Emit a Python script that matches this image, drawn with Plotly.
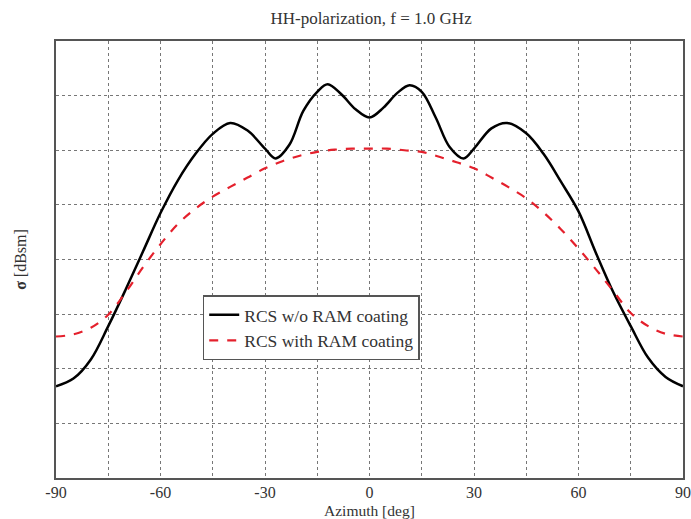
import plotly.graph_objects as go

# Data (y in grid units, axis unlabeled)
az_black = [-90, -85, -80, -75, -70, -65, -60, -55, -50, -45, -40, -35, -30, -27, -23, -19, -15, -12, -8, -4, 0,
            4, 8, 11.5, 15, 19, 23, 27, 30, 35, 39.5, 45, 50, 55, 60, 65, 70, 75, 80, 85, 90]
rcs_black = [1.68, 1.82, 2.17, 2.78, 3.45, 4.15, 4.85, 5.45, 5.93, 6.30, 6.50, 6.36, 6.03, 5.85, 6.10, 6.72, 7.07, 7.21, 7.02, 6.75, 6.60,
             6.78, 7.05, 7.19, 7.07, 6.60, 6.06, 5.85, 6.03, 6.40, 6.50, 6.31, 5.93, 5.42, 4.88, 4.12, 3.40, 2.78, 2.20, 1.85, 1.68]

az_red = [-90, -85, -80, -75, -70, -65, -60, -55, -50, -45, -40, -35, -30, -25, -20, -15, -10, -5, 0,
          5, 10, 15, 20, 25, 30, 35, 40, 45, 50, 55, 60, 65, 70, 75, 80, 85, 90]
rcs_red = [2.59, 2.63, 2.75, 2.99, 3.40, 3.86, 4.28, 4.65, 4.93, 5.15, 5.33, 5.50, 5.67, 5.80, 5.90, 5.97, 6.01, 6.03, 6.03,
           6.03, 6.00, 5.97, 5.88, 5.78, 5.67, 5.50, 5.32, 5.12, 4.86, 4.55, 4.20, 3.82, 3.42, 3.02, 2.78, 2.64, 2.59]

x_ticks = [-90, -60, -30, 0, 30, 60, 90]

serif = "Liberation Serif"
txt = "#333"

fig = go.Figure()
fig.add_trace(go.Scatter(x=az_black, y=rcs_black, mode="lines", name="RCS w/o RAM coating",
                         line=dict(color="black", width=2.5, shape="spline", smoothing=1.0)))
fig.add_trace(go.Scatter(x=az_red, y=rcs_red, mode="lines", name="RCS with RAM coating",
                         line=dict(color="#e4202c", width=2.2, dash="dash", shape="spline", smoothing=1.0)))

fig.update_layout(
    width=691, height=519,
    margin=dict(l=56, r=8, t=41, b=41),
    paper_bgcolor="white", plot_bgcolor="white",
    font=dict(family=serif, color=txt, size=17),
    title=dict(text="HH-polarization, f = 1.0 GHz", x=0.537, xanchor="center", y=0.965, yanchor="middle",
               font=dict(size=17, family=serif, color=txt)),
    showlegend=True,
    legend=dict(x=0.234, y=0.418, xanchor="left", yanchor="top",
                bordercolor="#555", borderwidth=1.5, bgcolor="white",
                font=dict(size=17.5, family=serif, color=txt),
                tracegroupgap=0, itemwidth=30),
    annotations=[dict(text="Azimuth [deg]", xref="paper", yref="paper", x=0.5, y=-0.0961,
                      xanchor="center", yanchor="bottom", showarrow=False, borderpad=0,
                      font=dict(size=15.5, family=serif, color=txt))],
)
fig.update_xaxes(range=[-90, 90], tickvals=x_ticks, ticktext=[str(v) for v in x_ticks],
                 automargin=False, ticklabeloverflow="allow", ticklabelstandoff=-1,
                 showgrid=True, gridcolor="#777", griddash="dot", gridwidth=1,
                 minor=dict(dtick=15, tick0=-90, showgrid=True, gridcolor="#777", griddash="dot", gridwidth=1),
                 showline=True, linecolor="#555", linewidth=1.5, mirror=True, zeroline=False,
                 ticks="", ticklen=0, tickfont=dict(size=16, family=serif, color=txt))
fig.update_yaxes(range=[0, 8], dtick=1, showticklabels=False, automargin=False,
                 showgrid=True, gridcolor="#777", griddash="dot", gridwidth=1,
                 showline=True, linecolor="#555", linewidth=1.5, mirror=True, zeroline=False, ticks="",
                 title=dict(text="<b>σ</b> [dBsm]", font=dict(size=16, family=serif, color=txt), standoff=24))

fig.write_html("out.html")
